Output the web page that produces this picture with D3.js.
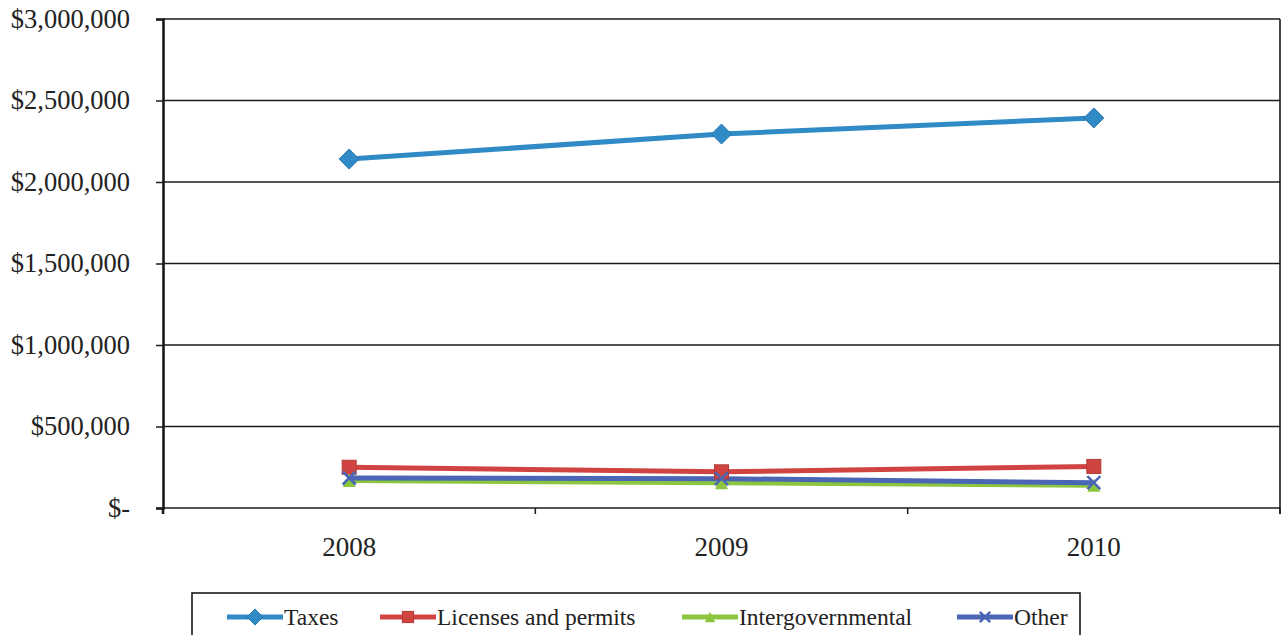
<!DOCTYPE html>
<html>
<head>
<meta charset="utf-8">
<script src="https://cdn.jsdelivr.net/npm/d3@7"></script>
<style>
  html, body { margin: 0; padding: 0; background: #fff; }
  #chart { width: 1285px; height: 635px; overflow: hidden; }
  svg text { font-family: "Times New Roman", "Liberation Serif", Tinos, "DejaVu Serif", "Noto Serif", serif !important; fill: #222; }
</style>
</head>
<body>
<div id="chart"></div>
<script>
  // --- data ---
  var years = ["2008", "2009", "2010"];
  var taxes = [2141000, 2294000, 2393000];
  var licenses = [250000, 222000, 255000];
  var intergov = [168000, 155000, 140000];
  var other = [184000, 180000, 155000];
  var yTicks = [0, 500000, 1000000, 1500000, 2000000, 2500000, 3000000];

  var SERIES = [
    { name: "Taxes", values: taxes, color: "#2f8ac6", marker: "diamond" },
    { name: "Licenses and permits", values: licenses, color: "#cf4440", marker: "square" },
    { name: "Intergovernmental", values: intergov, color: "#8cc63e", marker: "triangle" },
    { name: "Other", values: other, color: "#4a66b4", marker: "x" }
  ];

  var W = 1285, H = 635;
  var m = { top: 19, right: 5, bottom: 127, left: 163 };
  var iw = W - m.left - m.right, ih = H - m.top - m.bottom;

  var svg = d3.select("#chart").append("svg").attr("width", W).attr("height", H);
  var g = svg.append("g").attr("transform", "translate(" + m.left + "," + m.top + ")");

  var x = d3.scaleBand().domain(years).range([0, iw]);
  var y = d3.scaleLinear().domain([0, 3000000]).range([ih, 0]);

  function money(v) { return v === 0 ? "$-" : "$" + d3.format(",")(v); }

  // horizontal gridlines
  g.append("g").selectAll("line").data(yTicks).join("line")
    .attr("x1", 0).attr("x2", iw)
    .attr("y1", function (d) { return y(d); }).attr("y2", function (d) { return y(d); })
    .attr("stroke", "#1a1a1a").attr("stroke-width", 1.6);

  // y axis
  var ya = g.append("g").call(d3.axisLeft(y).tickValues(yTicks).tickFormat(money).tickSize(7).tickPadding(26));
  ya.attr("font-family", null);
  ya.select(".domain").attr("stroke", "#1a1a1a").attr("stroke-width", 2.6);
  ya.selectAll(".tick line").attr("stroke", "#1a1a1a").attr("stroke-width", 1.5);
  ya.selectAll("text").style("font-size", "26.5px").attr("fill", "#222");

  // x axis: ticks at band boundaries, labels at band centres
  var bounds = years.map(function (d) { return x(d) + x.bandwidth(); });
  g.append("g").selectAll("line").data(bounds).join("line")
    .attr("x1", function (d) { return d; }).attr("x2", function (d) { return d; })
    .attr("y1", ih).attr("y2", ih + 6)
    .attr("stroke", "#1a1a1a").attr("stroke-width", 1.5);
  g.append("line").attr("x1", 0).attr("x2", 0).attr("y1", ih).attr("y2", ih + 6)
    .attr("stroke", "#1a1a1a").attr("stroke-width", 2.6);
  // right frame edge
  g.append("line").attr("x1", iw).attr("x2", iw).attr("y1", 0).attr("y2", ih + 6)
    .attr("stroke", "#1a1a1a").attr("stroke-width", 1.6);

  g.append("g").selectAll("text").data(years).join("text")
    .attr("x", function (d) { return x(d) + x.bandwidth() / 2; })
    .attr("y", ih + 48)
    .attr("text-anchor", "middle")
    .style("font-size", "27px")
    .text(function (d) { return d; });

  // markers
  function drawMarker(sel, kind, color, size) {
    var s = size;
    if (kind === "diamond") {
      sel.append("path").attr("d", "M0," + (-s) + "L" + s + ",0L0," + s + "L" + (-s) + ",0Z")
        .attr("fill", color).attr("stroke", d3.color(color).darker(0.4)).attr("stroke-width", 1);
    } else if (kind === "square") {
      var q = s * 0.7;
      sel.append("rect").attr("x", -q).attr("y", -q).attr("width", 2 * q).attr("height", 2 * q)
        .attr("fill", color).attr("stroke", d3.color(color).darker(0.4)).attr("stroke-width", 1);
    } else if (kind === "triangle") {
      var t = s * 0.65;
      sel.append("path").attr("d", "M0," + (-t) + "L" + t + "," + t + "L" + (-t) + "," + t + "Z")
        .attr("fill", color);
    } else {
      var k = s * 0.65;
      sel.append("path").attr("d", "M" + (-k) + "," + (-k) + "L" + k + "," + k + "M" + k + "," + (-k) + "L" + (-k) + "," + k)
        .attr("stroke", color).attr("stroke-width", 2.5).attr("fill", "none");
    }
  }

  var line = d3.line()
    .x(function (d, i) { return x(years[i]) + x.bandwidth() / 2; })
    .y(function (d) { return y(d); });

  SERIES.forEach(function (s) {
    g.append("path").datum(s.values).attr("d", line)
      .attr("fill", "none").attr("stroke", s.color).attr("stroke-width", 5);
  });
  SERIES.forEach(function (s) {
    s.values.forEach(function (v, i) {
      var mk = g.append("g").attr("transform",
        "translate(" + (x(years[i]) + x.bandwidth() / 2) + "," + y(v) + ")");
      drawMarker(mk, s.marker, s.color, 10);
    });
  });

  // legend
  var lg = svg.append("g").attr("transform", "translate(192,593)");
  lg.append("rect").attr("x", 0).attr("y", 0).attr("width", 888).attr("height", 60)
    .attr("fill", "#fff").attr("stroke", "#1a1a1a").attr("stroke-width", 1.6);
  var legX = [35, 188, 490, 765];
  SERIES.forEach(function (s, i) {
    var it = lg.append("g").attr("transform", "translate(" + legX[i] + ",24)");
    it.append("line").attr("x1", 0).attr("x2", 56).attr("y1", 0).attr("y2", 0)
      .attr("stroke", s.color).attr("stroke-width", 5);
    var mk = it.append("g").attr("transform", "translate(28,0)");
    drawMarker(mk, s.marker, s.color, 8);
    it.append("text").attr("x", 57).attr("y", 0).attr("dy", "0.35em")
      .style("font-size", "23.5px").text(s.name);
  });
</script>
</body>
</html>
